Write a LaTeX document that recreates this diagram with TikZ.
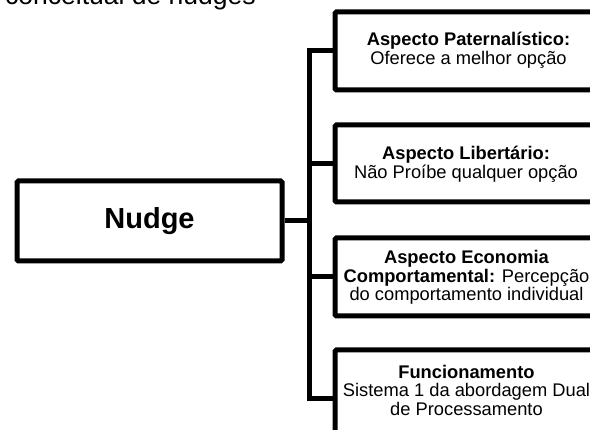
\documentclass[tikz,border=0pt]{standalone}
\usepackage{fontspec}
\setmainfont{Liberation Sans}
\begin{document}
\begin{tikzpicture}[x=1pt,y=-1pt,
  box/.style={draw=black, line width=5pt, rounded corners=1.5pt, fill=white,
    inner sep=0pt, align=center},
  rootbox/.style={box, minimum width=265pt, minimum height=80pt,
    font=\fontsize{29}{33}\selectfont\bfseries},
  leafbox/.style={box, minimum width=267pt, minimum height=78pt},
  leaftext/.style={align=center, inner sep=0pt,
    font=\fontsize{18.3}{18.5}\selectfont},
  conn/.style={draw=black, line width=5pt}]
  \useasboundingbox (0,0) rectangle (590,430);
  \clip (0,0) rectangle (590,430);

  % caption line running in from above
  \node[anchor=base west, inner sep=0pt, font=\fontsize{26.5}{30}\selectfont]
    (caption) at (5,4.5) {conceitual de nudges};

  % root
  \node[rootbox] (nudge) at (149.5,221) {Nudge};

  % branches
  \node[leafbox] (b1) at (468.5,51) {};
  \node[leafbox, minimum height=77pt] (b2) at (468.5,163.5) {};
  \node[leafbox] (b3) at (468.5,277) {};
  \node[leafbox, minimum height=98pt] (b4) at (468.5,399) {};

  \node[leaftext] (t1) at (468.5,50) {\textbf{Aspecto Paternalístico:}\\Oferece a melhor opção};
  \node[leaftext] (t2) at (466,164) {\textbf{Aspecto Libertário:}\\Não Proíbe qualquer opção};
  \node[leaftext] (t3) at (466.5,277.5) {\textbf{Aspecto Economia}\\\textbf{Comportamental:} Percepção\\do comportamento individual};
  \node[leaftext] (t4) at (466.5,390) {\textbf{Funcionamento}\\Sistema 1 da abordagem Dual\\de Processamento};

  % bracket connector
  \coordinate (bus) at (309,0);
  \draw[conn] (b1.west) -- (b1.west -| bus) -- (b4.west -| bus) -- (b4.west);
  \draw[conn] (b2.west) -- (b2.west -| bus);
  \draw[conn] (b3.west) -- (b3.west -| bus);
  \draw[conn] (nudge.east) -- (nudge.east -| bus);
\end{tikzpicture}
\end{document}
